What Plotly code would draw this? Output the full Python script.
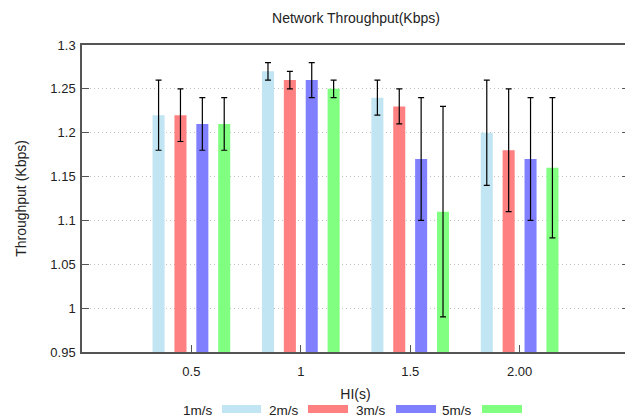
import plotly.graph_objects as go

categories = ["0.5", "1", "1.5", "2.00"]
series_names = ["1m/s", "2m/s", "3m/s", "5m/s"]
values = {
    "1m/s": [1.22, 1.27, 1.24, 1.20],
    "2m/s": [1.22, 1.26, 1.23, 1.18],
    "3m/s": [1.21, 1.26, 1.17, 1.17],
    "5m/s": [1.21, 1.25, 1.11, 1.16],
}
errors = {
    "1m/s": [0.04, 0.01, 0.02, 0.06],
    "2m/s": [0.03, 0.01, 0.02, 0.07],
    "3m/s": [0.03, 0.02, 0.07, 0.07],
    "5m/s": [0.03, 0.01, 0.12, 0.08],
}
colors = ["#c2e5f3", "#ff8080", "#8080ff", "#80ff80"]
y_ticks = [0.95, 1.0, 1.05, 1.1, 1.15, 1.2, 1.25, 1.3]
y_ticktext = ["0.95", "1", "1.05", "1.1", "1.15", "1.2", "1.25", "1.3"]

FONT = "Liberation Sans, Arial, sans-serif"
OFF = 8  # page body margin offset
fig = go.Figure()
for name, col in zip(series_names, colors):
    fig.add_trace(go.Bar(
        x=categories, y=values[name], name=name,
        marker=dict(color=col, line=dict(width=0)),
        error_y=dict(type="data", array=errors[name], color="black", thickness=1.2, width=3),
        showlegend=False,
    ))

FW, FH = 633, 418
L, R, T, B = 82 - OFF, 629 - OFF, 45 - OFF, 352 - OFF
W, H = R - L, B - T
def px(x): return (x - OFF - L) / W
def py(y): return (B - (y - OFF)) / H
legend_text_right = [215, 301, 388, 474]
legend_swatch = [(222, 261), (308, 348), (396, 436), (482, 522)]
annotations = []
shapes = []
for name, col, tr, (s0, s1) in zip(series_names, colors, legend_text_right, legend_swatch):
    annotations.append(dict(text=name, x=px(tr), y=py(410), xref="paper", yref="paper",
                            xanchor="right", yanchor="middle", showarrow=False,
                            font=dict(family=FONT, size=13.5, color="#222")))
    shapes.append(dict(type="rect", xref="paper", yref="paper",
                       x0=px(s0), x1=px(s1), y0=py(413), y1=py(405),
                       fillcolor=col, line=dict(width=0)))

fig.update_layout(
    width=FW, height=FH,
    margin=dict(l=L, r=FW - R, t=T, b=FH - B),
    paper_bgcolor="white", plot_bgcolor="white",
    barmode="group", bargap=0.2, bargroupgap=0.45,
    font=dict(family=FONT, size=13, color="#222"),
    title=dict(text="Network Throughput(Kbps)", x=px(356), xref="paper", xanchor="center",
               y=1 - (18 - OFF) / FH, yanchor="middle", font=dict(size=14)),
    xaxis=dict(
        type="category", range=[-1, 4], tickvals=categories,
        showline=True, linecolor="#555", linewidth=1.5, mirror=True,
        ticks="inside", ticklen=7, tickcolor="#555",
        showgrid=False, zeroline=False, automargin=False, ticklabelstandoff=7,
        title=dict(text="HI(s)", standoff=11, font=dict(size=14)),
    ),
    yaxis=dict(
        range=[0.95, 1.3], tickvals=y_ticks, ticktext=y_ticktext,
        showline=True, linecolor="#555", linewidth=1.5, mirror="ticks",
        ticks="inside", ticklen=7, tickcolor="#555",
        showgrid=True, gridcolor="#c0c0c0", griddash="1px,3px", gridwidth=1,
        zeroline=False, ticklabelstandoff=2, automargin=False,
        title=dict(text="Throughput (Kbps)", standoff=20, font=dict(size=14)),
    ),
    annotations=annotations, shapes=shapes,
)
fig.write_html("out.html")
